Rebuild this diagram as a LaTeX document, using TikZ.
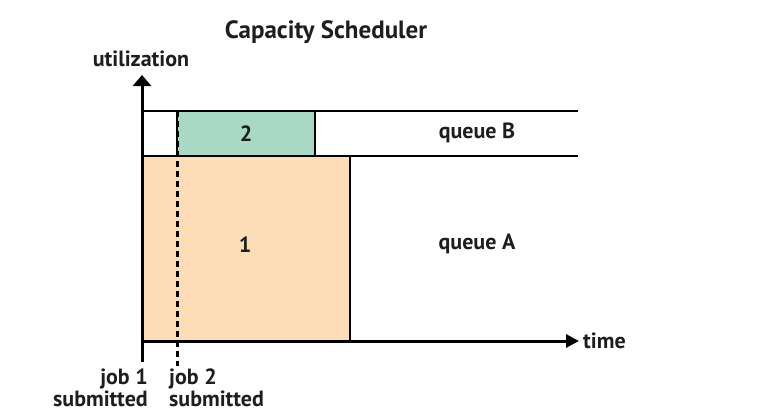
\documentclass[tikz,border=0pt]{standalone}
\usepackage{fontspec}
\setmainfont{PT Sans}
\usetikzlibrary{arrows.meta}
\definecolor{peach}{HTML}{FCDDB8}
\definecolor{mint}{HTML}{A9D8C5}
\definecolor{ink}{HTML}{1E1E1E}
\tikzset{
  lbl/.style={font=\fontsize{22}{22}\selectfont\bfseries, text=ink, inner sep=0pt},
  axis/.style={line width=3pt, draw=black},
  boxline/.style={line width=2.6pt, draw=black},
  job/.style={draw=black, line width=2.6pt, inner sep=0pt},
}
\begin{document}
\begin{tikzpicture}[x=1pt,y=-1pt]
\useasboundingbox[fill=white] (0,0) rectangle (781,418);
% jobs
\node[job, fill=peach, minimum width=208pt, minimum height=185pt] (jobA) at (246,248.5) {};
\node[lbl] (one) at (245,245) {1};
\node[job, fill=mint, minimum width=138pt, minimum height=45pt] (jobB) at (246,133.5) {};
\node[lbl] (two) at (246,134) {2};
% queue lines
\coordinate (qbL) at (142,111); \coordinate (qbR) at (578,111);
\coordinate (qaL) at (142,156); \coordinate (qaR) at (578,156);
\draw[boxline] (qbL) -- (qbR);
\draw[boxline] (qaL) -- (qaR);
% dashed job 2 line
\coordinate (d1) at (177,111); \coordinate (d2) at (177,366);
\draw[line width=3pt, dash pattern=on 6pt off 4pt] (d1) -- (d2);
% axes
\coordinate (ybot) at (142,362); \coordinate (ytop) at (142,75);
\coordinate (xl) at (142,341); \coordinate (xr) at (579,341);
\draw[axis, -{Triangle[width=18pt,length=11pt]}] (ybot) -- (ytop);
\draw[axis, -{Triangle[width=13pt,length=13pt]}] (xl) -- (xr);
% labels
\node[lbl, font=\fontsize{25}{28}\selectfont\bfseries] (title) at (326,32) {Capacity Scheduler};
\node[lbl] (util) at (141,59) {utilization};
\node[lbl, anchor=west] (time) at (583,341) {time};
\node[lbl] (qB) at (477,133) {queue B};
\node[lbl] (qA) at (477,244) {queue A};
\node[lbl, anchor=north east, align=right] (j1) at (148,369) {job 1\\submitted};
\node[lbl, anchor=north west, align=left] (j2) at (169,369) {job 2\\submitted};
\end{tikzpicture}
\end{document}
